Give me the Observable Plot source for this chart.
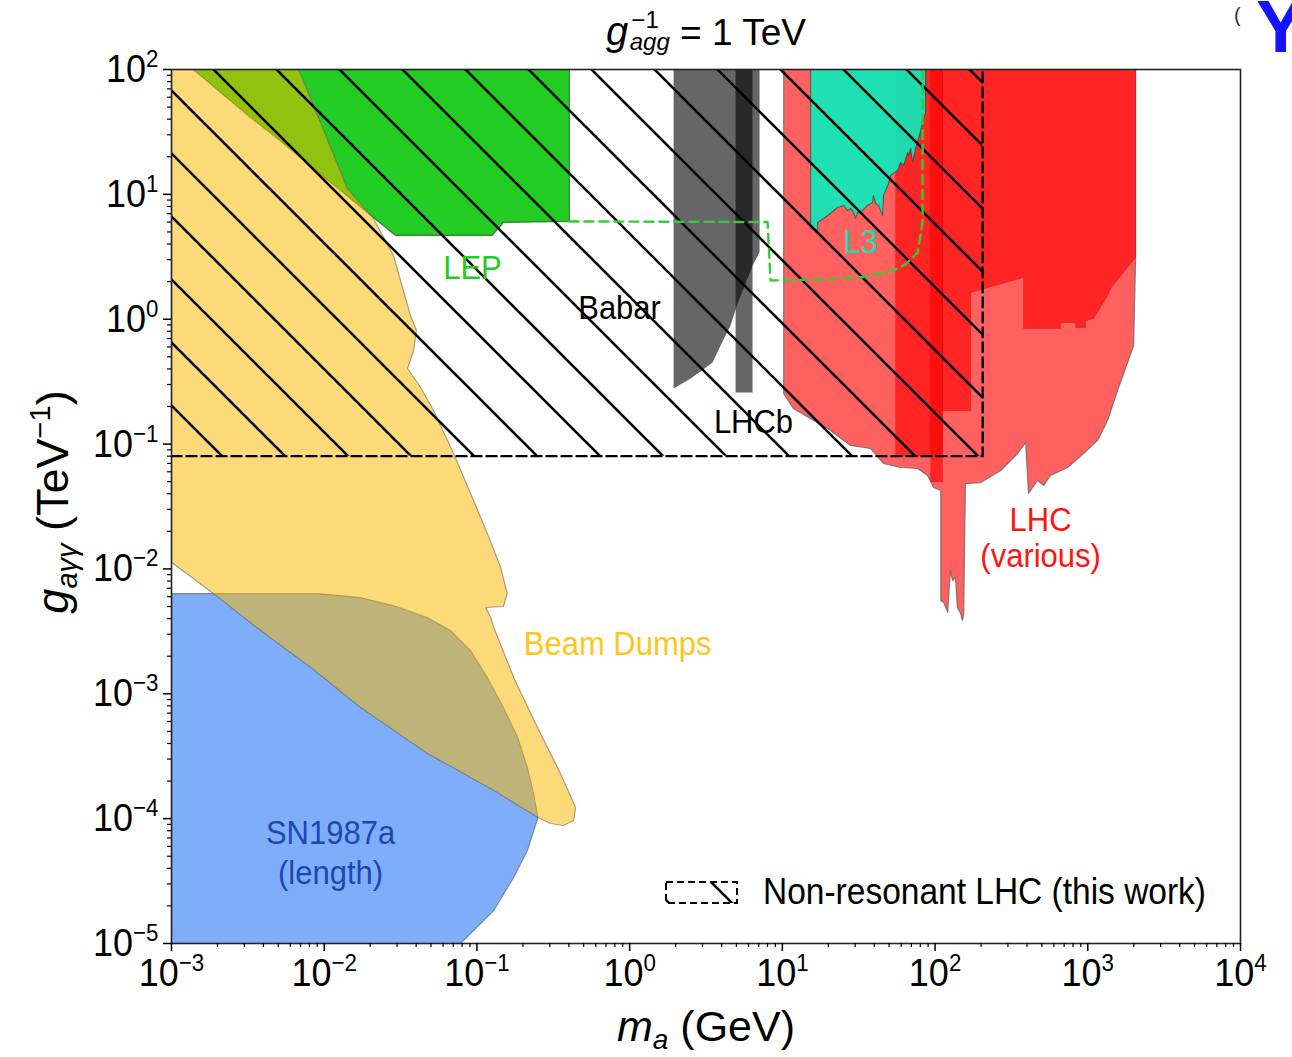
<!DOCTYPE html>
<html><head><meta charset="utf-8">
<script src="https://cdn.jsdelivr.net/npm/d3@7"></script>
<script src="https://cdn.jsdelivr.net/npm/@observablehq/plot@0.6"></script>
<style>
html,body{margin:0;padding:0;background:#fff;overflow:hidden;}
#chart{position:relative;width:1292px;height:1057px;}
#chart svg{display:block;font-family:"Liberation Sans",Arial,sans-serif;}
</style></head><body><div id="chart"></div>
<script>
// ---- axis ticks ----
const xMajor = [1e-3, 1e-2, 1e-1, 1e0, 1e1, 1e2, 1e3, 1e4];
const xTickExp = ["−3", "−2", "−1", "0", "1", "2", "3", "4"];
const yMajor = [1e-5, 1e-4, 1e-3, 1e-2, 1e-1, 1e0, 1e1, 1e2];
const yTickExp = ["−5", "−4", "−3", "−2", "−1", "0", "1", "2"];

// ---- excluded regions: [mass (GeV), g_aγγ (TeV^-1)] ----
const beamDumps = [[1e-3,100],[6.79e-3,100],[9.46e-3,37.6],[1.42e-2,11.1],[2.10e-2,6.41],[2.84e-2,3.24],[3.67e-2,1.07],[4.02e-2,0.813],[3.85e-2,0.561],[3.51e-2,0.403],[4.28e-2,0.284],[5.20e-2,0.186],[7.03e-2,0.0841],[9.51e-2,0.0353],[0.117,0.0192],[0.143,0.0103],[0.158,6.35e-3],[0.149,5.0e-3],[0.114,4.91e-3],[0.123,4.08e-3],[0.129,3.40e-3],[0.174,1.35e-3],[0.249,5.37e-4],[0.352,2.30e-4],[0.443,1.23e-4],[0.430,9.66e-5],[0.369,8.81e-5],[0.303,9.14e-5],[0.251,1.02e-4],[0.129,1.68e-4],[4.74e-2,3.33e-4],[1.73e-2,7.77e-4],[8.13e-3,1.63e-3],[3.83e-3,3.21e-3],[1.88e-3,6.35e-3],[1e-3,1.13e-2]];
const sn1987a = [[1e-3,6.35e-3],[9.03e-3,6.35e-3],[1.73e-2,5.9e-3],[2.84e-2,5.09e-3],[4.74e-2,4.08e-3],[6.71e-2,3.21e-3],[9.08e-2,2.22e-3],[0.117,1.35e-3],[0.149,7.77e-4],[0.185,4.47e-4],[0.214,2.57e-4],[0.235,1.59e-4],[0.251,1.02e-4],[0.214,5.56e-5],[0.174,3.38e-5],[0.129,1.84e-5],[7.82e-2,1e-5],[1e-3,1e-5]];
const lep = [[1.39e-3,100],[3.29e-3,41.3],[4.94e-3,28.0],[2.10e-2,6.53],[2.93e-2,4.69],[0.126,4.69],[0.149,5.95],[0.403,6.07],[0.403,100]];
const babar = [[1.94,100],[7.09,100],[7.09,3.42],[6.38,2.69],[5.74,1.93],[5.09,1.34],[4.58,0.891],[3.94,0.616],[3.49,0.450],[2.91,0.381],[2.51,0.335],[1.94,0.279]];
const lhcb = [[4.94,100],[6.38,100],[6.38,0.259],[4.94,0.259]];
const lhcWide = [[10.2,100],[10.2,0.254],[11.8,0.193],[19.8,0.133],[28.0,0.0975],[37.8,0.0922],[46.0,0.0699],[59.5,0.0649],[76.8,0.0637],[89.3,0.0560],[97.8,0.0449],[109,0.0425],[109,5.58e-3],[114,5.38e-3],[121,4.48e-3],[123,6.35e-3],[126,9.72e-3],[130,8.08e-3],[136,8.54e-3],[140,4.91e-3],[147,4.40e-3],[151,3.86e-3],[154,4.40e-3],[158,0.0483],[199,0.0492],[269,0.0614],[347,0.0841],[392,0.103],[409,0.0402],[469,0.0511],[514,0.0466],[570,0.0560],[738,0.0649],[938,0.0841],[1159,0.107],[1349,0.155],[1567,0.269],[1822,0.450],[1995,0.616],[2056,3.06],[2056,100]];
const lhcBandA = [[55.1,100],[112,100],[112,0.08],[55.1,0.08]];
const lhcBandB = [[93.5,100],[112,100],[112,0.05],[93.5,0.05]];
const lhcHigh = [[112,100],[2056,100],[2056,3.12],[1410,1.76],[1349,1.55],[1091,1.01],[968,0.977],[968,0.859],[832,0.859],[832,0.941],[664,0.941],[664,0.843],[380,0.843],[380,2.16],[171,1.64],[171,0.186],[112,0.186]];
const l3 = [[15.3,100],[15.3,5.33],[17.0,5.14],[17.0,5.95],[18.6,6.41],[19.8,6.77],[23.0,7.85],[25.2,8.15],[26.7,7.43],[28.0,7.71],[29.3,7.16],[30.1,6.41],[31.1,7.16],[33.5,7.43],[36.1,8.15],[39.0,8.61],[39.5,9.79],[40.8,8.45],[42.7,8.15],[45.3,6.77],[46.0,9.79],[49.6,12.2],[51.1,14.2],[56.8,15.5],[59.5,18.0],[62.2,17.0],[66.1,21.6],[67.0,20.5],[69.2,23.3],[71.3,18.0],[74.5,23.3],[78.0,28.0],[82.8,37.6],[86.6,45.3],[86.6,100]];
const l3Dashed = [[0.403,6.07],[8.0,6.0],[8.37,2.04],[19.8,2.08],[32.5,2.16],[53.5,2.45],[65.1,2.79],[76.8,3.42],[82.8,5.95],[82.8,100]];
// non-resonant LHC (this work)
const nonResMass = [1e-3, 205];
const nonResCoupling = [0.08, 100];

// ---- labels ----
const labelText = ["LEP", "L3", "Babar", "LHCb", "LHC", "(various)", "Beam Dumps", "SN1987a", "(length)"];
const labelMass = [0.0935, 32.5, 0.859, 6.47, 491, 491, 0.834, 0.0110, 0.0110];
const labelCoupling = [2.55, 4.11, 1.22, 0.149, 0.0244, 0.0126, 2.48e-3, 7.6e-5, 3.64e-5];
const labelColor = ["#22cc22", "#12e2b0", "#000000", "#000000", "#ff1414", "#ff1414", "#ffc61a", "#1f46b4", "#1f46b4"];

// ---- derived tables ----
const xMinor = [], yMinor = [];
for (let e = -3; e < 4; e++) for (let m = 2; m <= 9; m++) xMinor.push(m * Math.pow(10, e));
for (let e = -5; e < 2; e++) for (let m = 2; m <= 9; m++) yMinor.push(m * Math.pow(10, e));
const labels = labelText.map((t, i) => ({t, x: labelMass[i], y: labelCoupling[i], c: labelColor[i]}));
const nonResRect = [{x1: nonResMass[0], x2: nonResMass[1], y1: nonResCoupling[0], y2: nonResCoupling[1]}];
const nonResEdge = [[nonResMass[0], nonResCoupling[0]], [nonResMass[1], nonResCoupling[0]], [nonResMass[1], nonResCoupling[1]]];
const px = d => d[0], py = d => d[1];
const poly = (data, o) => Plot.line(data, {x: px, y: py, curve: "linear-closed", clip: true, ...o});

const plot = Plot.plot({
  width: 1292, height: 1057,
  marginLeft: 171, marginRight: 52, marginTop: 69, marginBottom: 114,
  x: {type: "log", domain: [1e-3, 1e4], label: null},
  y: {type: "log", domain: [1e-5, 1e2], label: null},
  style: {fontFamily: "Liberation Sans, Arial, sans-serif", background: "white", color: "black", overflow: "visible"},
  marks: [
    poly(lhcWide, {fill: "#ff0000", fillOpacity: 0.62, stroke: "#666", strokeOpacity: 0.8, strokeWidth: 1.2}),
    poly(lhcBandA, {fill: "#ff0000", fillOpacity: 0.62, stroke: "#900", strokeOpacity: 0.2, strokeWidth: 1}),
    poly(lhcBandB, {fill: "#ff0000", fillOpacity: 0.62, stroke: "#900", strokeOpacity: 0.2, strokeWidth: 1}),
    poly(lhcHigh, {fill: "#ff0000", fillOpacity: 0.62, stroke: "#900", strokeOpacity: 0.25, strokeWidth: 1}),
    poly(l3, {fill: "#07eebd", fillOpacity: 0.9, stroke: "#333", strokeOpacity: 0.6, strokeWidth: 1.2}),
    poly(babar, {fill: "#000", fillOpacity: 0.6, stroke: "none"}),
    poly(lhcb, {fill: "#000", fillOpacity: 0.6, stroke: "none"}),
    poly(lep, {fill: "#22cc22", stroke: "#1a5a1a", strokeOpacity: 0.7, strokeWidth: 1.2}),
    poly(sn1987a, {fill: "#7eaefa", stroke: "#555", strokeOpacity: 0.6, strokeWidth: 1.2}),
    poly(beamDumps, {fill: "#fab800", fillOpacity: 0.52, stroke: "#666", strokeOpacity: 0.6, strokeWidth: 1.2}),
    Plot.rect(nonResRect, {x1: "x1", x2: "x2", y1: "y1", y2: "y2", fill: "url(#hatch)"}),
    Plot.line(l3Dashed, {x: px, y: py, stroke: "#33cc33", strokeWidth: 2.4, strokeDasharray: "9,6", clip: true}),
    Plot.line(nonResEdge, {x: px, y: py, stroke: "#000", strokeWidth: 2.4, strokeDasharray: "10,5", clip: true}),
    Plot.text(labels, {x: "x", y: "y", text: "t", fill: "c", fontSize: 31, textAnchor: "middle"}),
    Plot.frame({stroke: "#222", strokeWidth: 1.6}),
    Plot.axisX(xMinor, {anchor: "bottom", tickSize: 4, tickFormat: () => "", label: null, strokeWidth: 1.2}),
    Plot.axisY(yMinor, {anchor: "left", tickSize: 4, tickFormat: () => "", label: null, strokeWidth: 1.2}),
    Plot.axisX(xMajor, {anchor: "bottom", tickSize: 8, tickPadding: 7, fontSize: 36, label: null, strokeWidth: 1.5,
      tickFormat: d => "10^" + xTickExp[xMajor.indexOf(d)]}),
    Plot.axisY(yMajor, {anchor: "left", tickSize: 8, tickPadding: 5, fontSize: 36, label: null, strokeWidth: 1.5,
      tickFormat: d => "10^" + yTickExp[yMajor.indexOf(d)]})
  ]
});
document.getElementById("chart").appendChild(plot);
const svg = d3.select(plot);

// hatch pattern
const pat = svg.insert("defs", ":first-child").append("pattern")
  .attr("id", "hatch").attr("patternUnits", "userSpaceOnUse")
  .attr("width", 63).attr("height", 63).attr("patternTransform", "translate(18,0)");
pat.append("path").attr("d", "M0,0L63,63M60,-3L66,3M-3,60L3,66")
  .attr("stroke", "#000").attr("stroke-width", 2.6).attr("fill", "none");

// superscript tick labels
svg.selectAll("text").each(function () {
  const s = this.textContent;
  if (s && s.startsWith("10^")) {
    const [base, exp] = s.split("^");
    const t = d3.select(this);
    t.text("");
    t.append("tspan").text(base);
    t.append("tspan").attr("font-size", "0.62em").attr("dy", "-0.62em").text(exp);
  }
});
// slight vertical stretch of glyphs like the reference
svg.selectAll("text").each(function () {
  const tr = this.getAttribute("transform");
  if (tr) this.setAttribute("transform", tr + " scale(1,1.08)");
});

// legend
const lg = svg.append("g");
lg.append("rect").attr("x", 666).attr("y", 882).attr("width", 71).attr("height", 21)
  .attr("fill", "url(#hatch)").attr("stroke", "#000").attr("stroke-width", 2).attr("stroke-dasharray", "7,4");
lg.append("text").attr("transform", "translate(763,904) scale(1,1.08)").attr("text-anchor", "start")
  .attr("font-size", 33.5).attr("fill", "#000").text("Non-resonant LHC (this work)");

// title
const tt = svg.append("text").attr("transform", "translate(706,45)").attr("text-anchor", "middle").attr("font-size", 37).attr("fill", "#000");
tt.append("tspan").attr("font-style", "italic").attr("font-size", 40).text("g");
tt.append("tspan").attr("font-size", 24).attr("dx", 3).attr("dy", -17).text("−1");
tt.append("tspan").attr("font-size", 24).attr("font-style", "italic").attr("dx", -29).attr("dy", 22).text("agg");
tt.append("tspan").attr("dy", -5).text(" = 1 TeV");

// x label
const xl = svg.append("text").attr("transform", "translate(706,1041)").attr("text-anchor", "middle").attr("font-size", 43).attr("fill", "#000");
xl.append("tspan").attr("font-style", "italic").text("m");
xl.append("tspan").attr("font-size", 28).attr("font-style", "italic").attr("dy", 8).text("a");
xl.append("tspan").attr("dy", -8).text(" (GeV)");

// y label
const yl = svg.append("text").attr("transform", "translate(68,502) rotate(-90)").attr("text-anchor", "middle").attr("font-size", 45).attr("fill", "#000");
yl.append("tspan").attr("font-style", "italic").text("g");
yl.append("tspan").attr("font-size", 29).attr("font-style", "italic").attr("dy", 9).text("aγγ");
yl.append("tspan").attr("dy", -9).text(" (TeV");
yl.append("tspan").attr("font-size", 29).attr("dy", -18).text("−1");
yl.append("tspan").attr("dy", 18).text(")");

// cropped neighbour glyphs at the top edge
svg.append("text").attr("x", 1256).attr("y", 52).attr("text-anchor", "start").attr("font-size", 74).attr("font-weight", "bold").attr("fill", "#1414ff").text("Y");
svg.append("text").attr("x", 1234).attr("y", 22).attr("text-anchor", "start").attr("font-size", 20).attr("fill", "#333").text("(");
</script>
</body></html>
